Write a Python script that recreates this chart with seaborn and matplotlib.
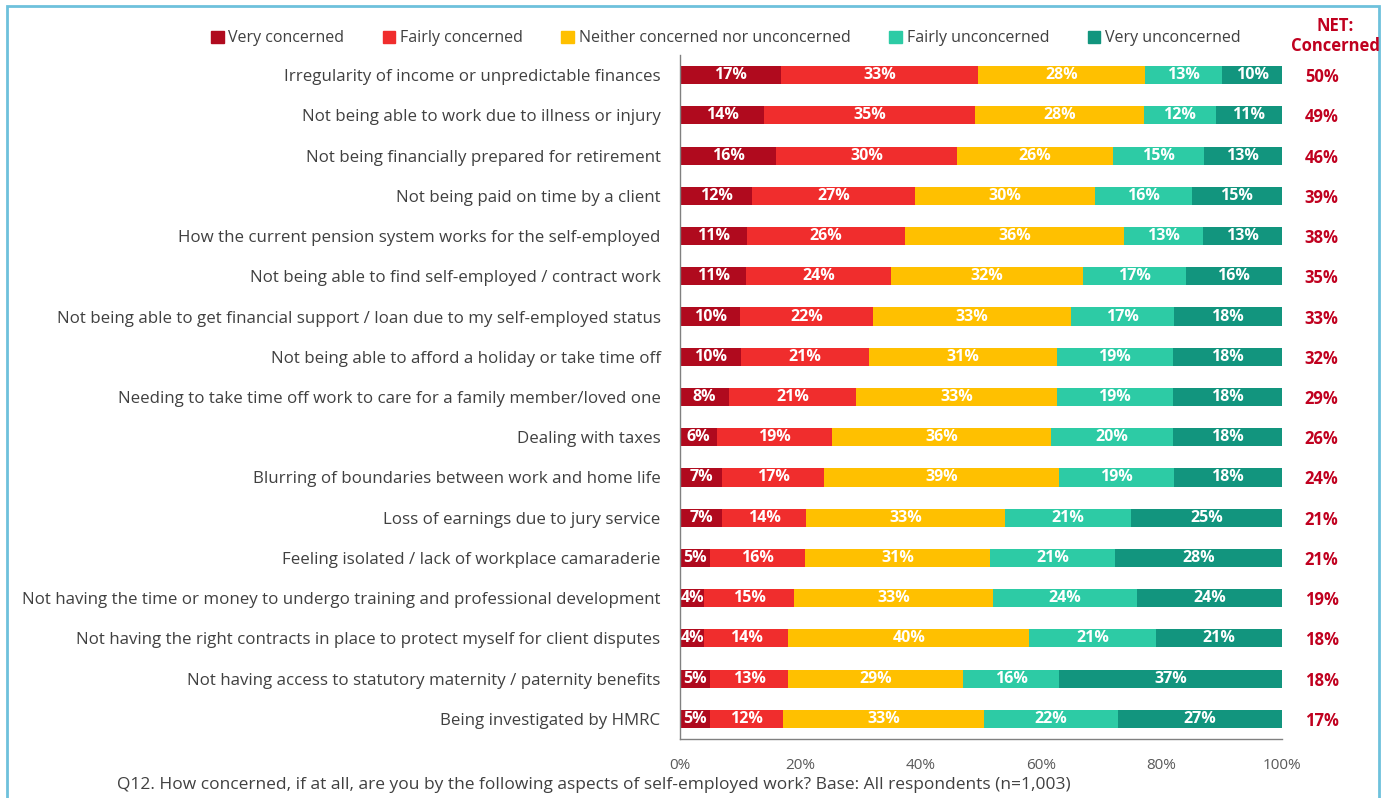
import numpy as np
import pandas as pd
import matplotlib.pyplot as plt
import matplotlib.patches as mpatches
import matplotlib.transforms as mtransforms
import seaborn as sns

# Chart data
aspects = [
    "Irregularity of income or unpredictable finances",
    "Not being able to work due to illness or injury",
    "Not being financially prepared for retirement",
    "Not being paid on time by a client",
    "How the current pension system works for the self-employed",
    "Not being able to find self-employed / contract work",
    "Not being able to get financial support / loan due to my self-employed status",
    "Not being able to afford a holiday or take time off",
    "Needing to take time off work to care for a family member/loved one",
    "Dealing with taxes",
    "Blurring of boundaries between work and home life",
    "Loss of earnings due to jury service",
    "Feeling isolated / lack of workplace camaraderie",
    "Not having the time or money to undergo training and professional development",
    "Not having the right contracts in place to protect myself for client disputes",
    "Not having access to statutory maternity / paternity benefits",
    "Being investigated by HMRC",
]
categories = ["Very concerned", "Fairly concerned", "Neither concerned nor unconcerned",
              "Fairly unconcerned", "Very unconcerned"]
very_concerned = [17, 14, 16, 12, 11, 11, 10, 10, 8, 6, 7, 7, 5, 4, 4, 5, 5]
fairly_concerned = [33, 35, 30, 27, 26, 24, 22, 21, 21, 19, 17, 14, 16, 15, 14, 13, 12]
neither = [28, 28, 26, 30, 36, 32, 33, 31, 33, 36, 39, 33, 31, 33, 40, 29, 33]
fairly_unconcerned = [13, 12, 15, 16, 13, 17, 17, 19, 19, 20, 19, 21, 21, 24, 21, 16, 22]
very_unconcerned = [10, 11, 13, 15, 13, 16, 18, 18, 18, 18, 18, 25, 28, 24, 21, 37, 27]
net_concerned = [50, 49, 46, 39, 38, 35, 33, 32, 29, 26, 24, 21, 21, 19, 18, 18, 17]

colors = ["#B00A1E", "#F02D2D", "#FFC000", "#2DCBA5", "#12957E"]
text_gray = "#404040"
net_red = "#C0001F"

df = pd.DataFrame({
    "aspect": aspects,
    categories[0]: very_concerned,
    categories[1]: fairly_concerned,
    categories[2]: neither,
    categories[3]: fairly_unconcerned,
    categories[4]: very_unconcerned,
})
vals = df[categories].astype(float)
# bars fill the full 100% width, so scale each row by its total
shares = vals.div(vals.sum(axis=1), axis=0) * 100
cum = shares.cumsum(axis=1)

sns.set_style("white")
plt.rcParams['font.family'] = ['Open Sans', 'DejaVu Sans']

fig = plt.figure(figsize=(13.85, 7.98), dpi=100)
ax = fig.add_axes([0.491, 0.074, 0.4346, 0.857])

# stacked bars: draw cumulative totals from the widest down
for i in range(len(categories) - 1, -1, -1):
    sns.barplot(x=cum[categories[i]], y=df["aspect"], color=colors[i],
                orient="h", width=0.45, ax=ax, saturation=1, linewidth=0)

# segment labels
for r in range(len(aspects)):
    for i, c in enumerate(categories):
        center = cum.iloc[r, i] - shares.iloc[r, i] / 2
        ax.text(center, r, f"{int(vals.iloc[r, i])}%", ha="center", va="center",
                color="white", fontsize=11.5, fontweight="bold")

# NET column
trans = mtransforms.blended_transform_factory(ax.transAxes, ax.transData)
for r, v in enumerate(net_concerned):
    ax.text(1.066, r + 0.05, f"{v}%", transform=trans, ha="center", va="center",
            color=net_red, fontsize=12, fontweight="bold")
fig.text(0.964, 0.955, "NET:\nConcerned", ha="center", va="center", color=net_red,
         fontsize=12, fontweight="bold", linespacing=1.1)

ax.set_xlim(0, 100)
ax.set_ylim(len(aspects) - 0.5, -0.5)
ax.set_xticks(range(0, 101, 20))
ax.set_xticklabels([f"{t}%" for t in range(0, 101, 20)])
ax.set_yticks(range(len(aspects)))
ax.set_yticklabels(aspects)
ax.set_yticks(np.arange(-0.5, len(aspects), 1), minor=True)
ax.tick_params(axis="y", which="major", length=0, pad=14, labelsize=12.2, labelcolor=text_gray)
ax.tick_params(axis="y", which="minor", length=5, color="#808080", direction="out")
ax.tick_params(axis="x", length=6, color="#808080", labelsize=11, labelcolor="#595959", pad=8)
ax.set_xlabel("")
ax.set_ylabel("")
for s in ["top", "right"]:
    ax.spines[s].set_visible(False)
for s in ["left", "bottom"]:
    ax.spines[s].set_color("#808080")
    ax.spines[s].set_linewidth(1)

# legend
handles = [mpatches.Patch(color=colors[i], label=c) for i, c in enumerate(categories)]
fig.legend(handles=handles, loc="center", bbox_to_anchor=(0.524, 0.952), ncol=5,
           frameon=False, fontsize=11.5, handlelength=0.8, handleheight=0.8,
           handletextpad=0.3, columnspacing=2.4, labelcolor=text_gray)

# footnote
fig.text(0.0845, 0.016, "Q12. How concerned, if at all, are you by the following aspects of "
         "self-employed work? Base: All respondents (n=1,003)", ha="left", va="center",
         fontsize=12.5, color=text_gray)

# light blue frame
fig.patches.append(mpatches.Rectangle((0.005, -0.05), 0.991, 1.043, transform=fig.transFigure,
                                      fill=False, edgecolor="#6EC1DC", linewidth=2))

fig.savefig("out.png", dpi=100)
